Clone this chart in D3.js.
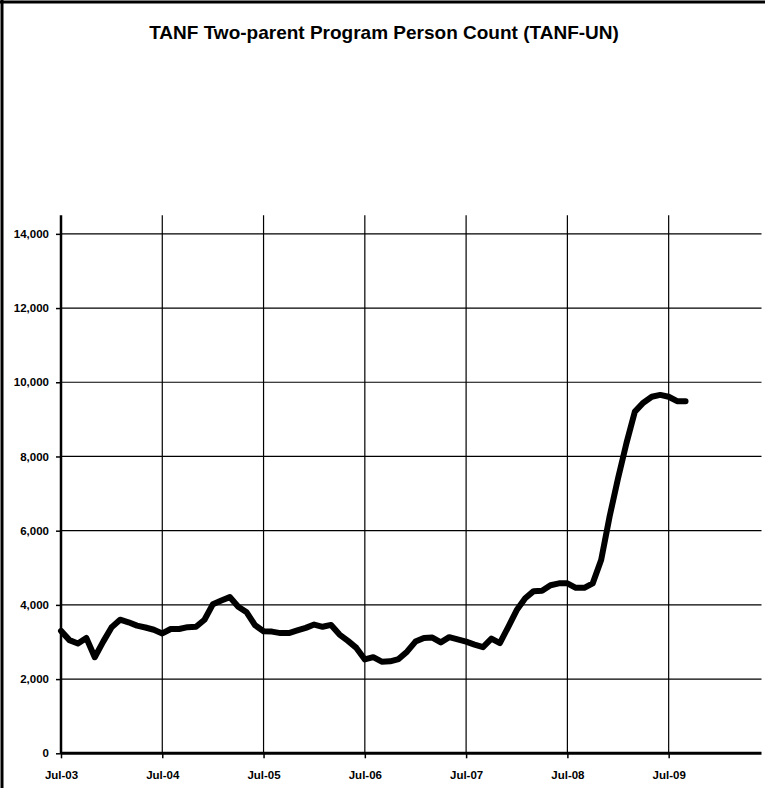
<!DOCTYPE html>
<html><head><meta charset="utf-8">
<script src="https://cdn.jsdelivr.net/npm/d3@7"></script>
<style>body{margin:0;background:#fff}svg{display:block}text{font-family:"Liberation Sans",Arial,sans-serif;font-weight:bold;fill:#000}</style>
</head><body>
<svg id="c" width="765" height="788"></svg>
<script>
const title = "TANF Two-parent Program Person Count (TANF-UN)";
const months = ["Jul-03","Aug-03","Sep-03","Oct-03","Nov-03","Dec-03","Jan-04","Feb-04","Mar-04","Apr-04","May-04","Jun-04",
"Jul-04","Aug-04","Sep-04","Oct-04","Nov-04","Dec-04","Jan-05","Feb-05","Mar-05","Apr-05","May-05","Jun-05",
"Jul-05","Aug-05","Sep-05","Oct-05","Nov-05","Dec-05","Jan-06","Feb-06","Mar-06","Apr-06","May-06","Jun-06",
"Jul-06","Aug-06","Sep-06","Oct-06","Nov-06","Dec-06","Jan-07","Feb-07","Mar-07","Apr-07","May-07","Jun-07",
"Jul-07","Aug-07","Sep-07","Oct-07","Nov-07","Dec-07","Jan-08","Feb-08","Mar-08","Apr-08","May-08","Jun-08",
"Jul-08","Aug-08","Sep-08","Oct-08","Nov-08","Dec-08","Jan-09","Feb-09","Mar-09","Apr-09","May-09","Jun-09",
"Jul-09","Aug-09","Sep-09"];
const persons = [3300,3050,2960,3110,2590,3010,3400,3600,3530,3440,3390,3330,
3230,3350,3350,3400,3410,3600,4020,4120,4210,3950,3800,3450,
3290,3280,3240,3240,3310,3380,3470,3410,3460,3200,3030,2840,
2530,2590,2470,2480,2540,2740,3010,3110,3120,2990,3130,3070,
3010,2930,2860,3090,2970,3410,3860,4180,4370,4380,4530,4580,
4580,4460,4460,4580,5210,6380,7410,8360,9210,9450,9610,9660,
9610,9490,9490];
const xTickLabels = ["Jul-03","Jul-04","Jul-05","Jul-06","Jul-07","Jul-08","Jul-09"];
const yTicks = [0,2000,4000,6000,8000,10000,12000,14000];

const svg = d3.select("#c");
const L = 61, R = 761.5, T = 215.3, B = 753.3;
const x = d3.scaleLinear().domain([0, 83]).range([L, R]);
const y = d3.scaleLinear().domain([0, 14500]).range([B, T]);
const fmt = d3.format(",");

// frame
svg.append("line").attr("x1",2).attr("x2",2).attr("y1",0).attr("y2",788).attr("stroke","#000").attr("stroke-width",3);
svg.append("line").attr("x1",0).attr("x2",765).attr("y1",2).attr("y2",2).attr("stroke","#000").attr("stroke-width",3);

svg.append("text").attr("x",384).attr("y",39).attr("text-anchor","middle").style("font-size","19px").text(title);

// horizontal gridlines
svg.append("g").selectAll("line").data(yTicks.filter(d=>d>0)).join("line")
  .attr("x1",L).attr("x2",R).attr("y1",d=>y(d)).attr("y2",d=>y(d)).attr("stroke","#000").attr("stroke-width",1.2);
// vertical gridlines
const xIdx = xTickLabels.map(l=>months.indexOf(l));
svg.append("g").selectAll("line").data(xIdx.filter(i=>i>0)).join("line")
  .attr("x1",d=>x(d)).attr("x2",d=>x(d)).attr("y1",T).attr("y2",B).attr("stroke","#000").attr("stroke-width",1.2);

// y axis
const yAxis = d3.axisLeft(y).tickValues(yTicks).tickFormat(fmt).tickSize(5).tickPadding(7);
const gy = svg.append("g").attr("transform",`translate(${L},0)`).call(yAxis);
gy.select(".domain").attr("stroke","#000").attr("stroke-width",2.5).attr("d",`M0,${T}V${B}`);
gy.selectAll(".tick line").attr("stroke","#000").attr("stroke-width",1.5);
gy.selectAll(".tick text").style("font-size","11.5px").style("font-family","'Liberation Sans',Arial,sans-serif").style("font-weight","bold");

// x axis
const xAxis = d3.axisBottom(x).tickValues(xIdx).tickFormat(i=>months[i]).tickSize(5).tickPadding(13);
const gx = svg.append("g").attr("transform",`translate(0,${B})`).call(xAxis);
gx.select(".domain").attr("stroke","#000").attr("stroke-width",3).attr("d",`M${L},0H${R}`);
gx.selectAll(".tick line").attr("stroke","#000").attr("stroke-width",1.5);
gx.selectAll(".tick text").style("font-size","11.5px").style("font-family","'Liberation Sans',Arial,sans-serif").style("font-weight","bold");

// line
const line = d3.line().x((d,i)=>x(i)).y(d=>y(d));
svg.append("path").datum(persons).attr("d",line).attr("fill","none").attr("stroke","#000")
  .attr("stroke-width",6).attr("stroke-linejoin","round").attr("stroke-linecap","round");
</script>
</body></html>
